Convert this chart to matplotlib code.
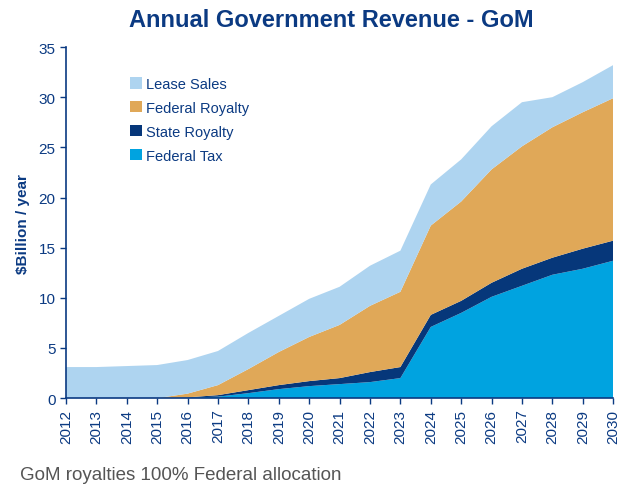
import numpy as np
import matplotlib.pyplot as plt

plt.rcParams['font.family'] = ['Liberation Sans', 'DejaVu Sans']

years = list(range(2012, 2031))

# cumulative tops ($Billion / year)
tax_top = [0, 0, 0, 0, 0.05, 0.15, 0.5, 0.9, 1.2, 1.4, 1.6, 2.0, 7.1, 8.5, 10.1, 11.2, 12.3, 12.9, 13.7]
state_top = [0, 0, 0, 0, 0.08, 0.3, 0.8, 1.3, 1.7, 2.0, 2.6, 3.1, 8.3, 9.7, 11.5, 12.9, 14.0, 14.9, 15.7]
fedroy_top = [0, 0, 0, 0, 0.45, 1.3, 2.9, 4.6, 6.1, 7.3, 9.2, 10.6, 17.2, 19.6, 22.8, 25.1, 27.0, 28.5, 29.9]
total_top = [3.1, 3.1, 3.2, 3.3, 3.8, 4.7, 6.5, 8.2, 9.9, 11.1, 13.2, 14.7, 21.3, 23.8, 27.1, 29.5, 30.0, 31.5, 33.2]

federal_tax = np.array(tax_top)
state_royalty = np.array(state_top) - np.array(tax_top)
federal_royalty = np.array(fedroy_top) - np.array(state_top)
lease_sales = np.array(total_top) - np.array(fedroy_top)

navy = '#0B3A82'
colors = ['#00A3E0', '#06377A', '#E0A858', '#AED4F0']
labels = ['Federal Tax', 'State Royalty', 'Federal Royalty', 'Lease Sales']

fig = plt.figure(figsize=(6.19, 4.85), dpi=100)
ax = fig.add_axes([0.1066, 0.177, 0.884, 0.724])

ax.stackplot(years, federal_tax, state_royalty, federal_royalty, lease_sales,
             colors=colors, labels=labels, linewidth=0)

ax.set_xlim(2012, 2030)
ax.set_ylim(0, 35)
ax.set_xticks(years)
ax.set_xticklabels([str(y) for y in years], rotation=90)
ax.set_yticks(range(0, 36, 5))
ax.tick_params(colors=navy, labelsize=11, length=4, width=1)
for s in ['top', 'right']:
    ax.spines[s].set_visible(False)
for s in ['left', 'bottom']:
    ax.spines[s].set_color(navy)
    ax.spines[s].set_linewidth(1.2)

ax.set_ylabel('\\$Billion / year', color=navy, fontsize=11, fontweight='bold', labelpad=6)
fig.text(0.535, 0.957, 'Annual Government Revenue - GoM', ha='center', va='center',
         color=navy, fontsize=17, fontweight='bold')
fig.text(0.033, 0.02, 'GoM royalties 100% Federal allocation', ha='left', va='center',
         color='#555555', fontsize=13.5)

handles, labs = ax.get_legend_handles_labels()
leg = ax.legend(handles[::-1], labs[::-1], loc='upper left', bbox_to_anchor=(0.093, 0.952),
                frameon=False, fontsize=10.5, handlelength=0.8, handleheight=0.8,
                handletextpad=0.3, labelspacing=0.68)
for t in leg.get_texts():
    t.set_color(navy)

fig.savefig('out.png', dpi=100)
